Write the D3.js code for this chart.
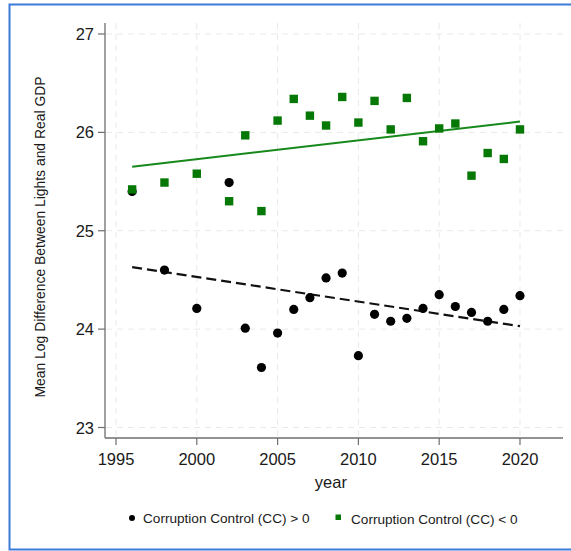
<!DOCTYPE html>
<html>
<head>
<meta charset="utf-8">
<script src="https://cdn.jsdelivr.net/npm/d3@7"></script>
<style>
  html, body { margin: 0; padding: 0; background: #fff; }
  svg { display: block; font-family: "Liberation Sans", Arial, sans-serif; }
</style>
</head>
<body>
<div id="chart"></div>
<script>
// ---- data ----
const years = [1996, 1998, 2000, 2002, 2003, 2004, 2005, 2006, 2007, 2008, 2009,
               2010, 2011, 2012, 2013, 2014, 2015, 2016, 2017, 2018, 2019, 2020];
// CC > 0 (black circles)
const ccPos = [25.40, 24.60, 24.21, 25.49, 24.01, 23.61, 23.96, 24.20, 24.32, 24.52, 24.57,
               23.73, 24.15, 24.08, 24.11, 24.21, 24.35, 24.23, 24.17, 24.08, 24.20, 24.34];
// CC < 0 (green squares)
const ccNeg = [25.42, 25.49, 25.58, 25.30, 25.97, 25.20, 26.12, 26.34, 26.17, 26.07, 26.36,
               26.10, 26.32, 26.03, 26.35, 25.91, 26.04, 26.09, 25.56, 25.79, 25.73, 26.03];
// linear fit end points
const fitYears = [1996, 2020];
const fitPos = [24.63, 24.03];
const fitNeg = [25.65, 26.11];
const xTicks = [1995, 2000, 2005, 2010, 2015, 2020];
const yTicks = [23, 24, 25, 26, 27];

const W = 571, H = 551;
const GREEN = "#067806", LINEGREEN = "#17891a";

const svg = d3.select("#chart").append("svg").attr("width", W).attr("height", H);

// blue frame around the figure (open on the right)
svg.append("path")
  .attr("d", `M${W + 2},4.5 H9.5 V549.5 H${W + 2}`)
  .attr("fill", "none").attr("stroke", "#3d7bd9").attr("stroke-width", 2);

const x = d3.scaleLinear().domain([1994.32, 2022.6]).range([105, 562]);
const y = d3.scaleLinear().domain([23, 27]).range([427.5, 34]);
const yTop = 23, yBot = 438;

// grid
const grid = svg.append("g").attr("stroke", "#e9e9e9").attr("stroke-width", 1)
  .attr("stroke-dasharray", "6 5");
grid.selectAll("line.h").data(yTicks).join("line").attr("class", "h")
  .attr("x1", 106).attr("x2", 563).attr("y1", d => y(d)).attr("y2", d => y(d));
grid.selectAll("line.v").data(xTicks).join("line").attr("class", "v")
  .attr("x1", d => x(d)).attr("x2", d => x(d)).attr("y1", yTop).attr("y2", yBot);

// axes
const axisCol = "#6e6e6e";
svg.append("line").attr("x1", 105).attr("x2", 105).attr("y1", yTop).attr("y2", yBot)
  .attr("stroke", axisCol).attr("stroke-width", 1.3);
svg.append("line").attr("x1", 105).attr("x2", 563).attr("y1", yBot).attr("y2", yBot)
  .attr("stroke", axisCol).attr("stroke-width", 1.3);

const yAx = svg.append("g");
yAx.selectAll("line").data(yTicks).join("line")
  .attr("x1", 98).attr("x2", 105).attr("y1", d => y(d)).attr("y2", d => y(d))
  .attr("stroke", axisCol).attr("stroke-width", 1.2);
yAx.selectAll("text").data(yTicks).join("text")
  .attr("x", 94).attr("y", d => y(d) + 6).attr("text-anchor", "end")
  .attr("font-size", 16.5).attr("fill", "#1a1a1a").text(d => d);

const xAx = svg.append("g");
xAx.selectAll("line").data(xTicks).join("line")
  .attr("x1", d => x(d)).attr("x2", d => x(d)).attr("y1", yBot).attr("y2", yBot + 7)
  .attr("stroke", axisCol).attr("stroke-width", 1.2);
xAx.selectAll("text").data(xTicks).join("text")
  .attr("x", d => x(d)).attr("y", 465).attr("text-anchor", "middle")
  .attr("font-size", 16.5).attr("fill", "#1a1a1a").text(d => d);

svg.append("text").attr("x", x(2008.3)).attr("y", 488).attr("text-anchor", "middle")
  .attr("font-size", 16.5).attr("fill", "#1a1a1a").text("year");
svg.append("text").attr("transform", "translate(45,237) rotate(-90)")
  .attr("text-anchor", "middle").attr("font-size", 13.9).attr("fill", "#1a1a1a")
  .text("Mean Log Difference Between Lights and Real GDP");

// fit lines
const line = d3.line().x(d => x(d[0])).y(d => y(d[1]));
svg.append("path").datum(fitYears.map((t, i) => [t, fitNeg[i]]))
  .attr("d", line).attr("fill", "none").attr("stroke", LINEGREEN).attr("stroke-width", 2);
svg.append("path").datum(fitYears.map((t, i) => [t, fitPos[i]]))
  .attr("d", line).attr("fill", "none").attr("stroke", "#111").attr("stroke-width", 2.2)
  .attr("stroke-dasharray", "10 5");

// points
svg.append("g").selectAll("circle").data(years.map((t, i) => [t, ccPos[i]])).join("circle")
  .attr("cx", d => x(d[0])).attr("cy", d => y(d[1])).attr("r", 4.6).attr("fill", "#000");
svg.append("g").selectAll("rect").data(years.map((t, i) => [t, ccNeg[i]])).join("rect")
  .attr("x", d => x(d[0]) - 4.2).attr("y", d => y(d[1]) - 4.2)
  .attr("width", 8.4).attr("height", 8.4).attr("fill", GREEN);

// legend
const lg = svg.append("g").attr("font-size", 13.6).attr("fill", "#1a1a1a");
lg.append("circle").attr("cx", 132).attr("cy", 518).attr("r", 3).attr("fill", "#000");
lg.append("text").attr("x", 143).attr("y", 523).text("Corruption Control (CC) > 0");
lg.append("rect").attr("x", 335.5).attr("y", 514.5).attr("width", 5.5).attr("height", 5.5).attr("fill", GREEN);
lg.append("text").attr("x", 351).attr("y", 523.5).text("Corruption Control (CC) < 0");
</script>
</body>
</html>
